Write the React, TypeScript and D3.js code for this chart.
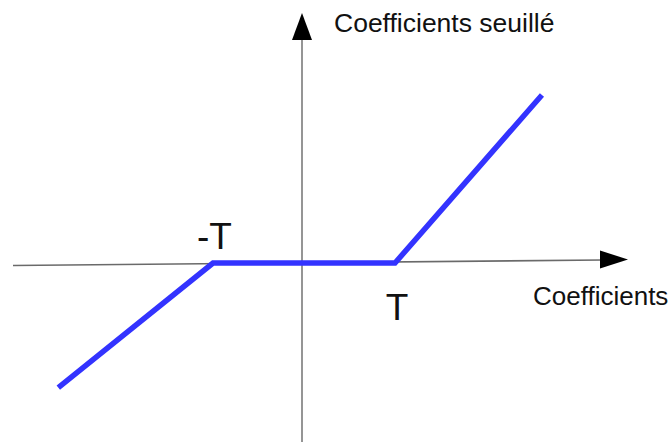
import React from "react";
import * as d3 from "d3";

const W = 672;
const H = 442;

// Threshold function points (soft thresholding, reading from picture)
const curveX = [-2.7, -1, 1, 2.615];
const curveY = [-1.37, 0, 0, 1.846];
const axisLabels = ["Coefficients", "Coefficients seuillé"];
const thresholdLabels = ["-T", "T"];

export default function App() {
  const x = d3.scaleLinear().domain([-1, 1]).range([213, 395]);
  const y = d3.scaleLinear().domain([0, 1]).range([263, 172]);
  const pts: [number, number][] = curveX.map((v, i) => [x(v), y(curveY[i])]);
  const line = d3.line<[number, number]>().x(d => d[0]).y(d => d[1]);

  const x0 = 302;
  const font = "'Liberation Sans', Arial, sans-serif";

  return (
    <svg width={W} height={H} style={{ position: "absolute", left: 0, top: 0, background: "#fff" }}>
      {/* horizontal axis */}
      <line x1={13} y1={265.5} x2={602} y2={260} stroke="#6a6a6a" strokeWidth={1.6} />
      <path d="M600,250.5 L628,259.5 L600,268.5 Z" fill="#000" />
      {/* vertical axis */}
      <line x1={x0} y1={442} x2={x0} y2={38} stroke="#8a8a8a" strokeWidth={1.8} />
      <path d={`M${x0 - 10},40 L${x0},13 L${x0 + 10},40 Z`} fill="#000" />
      {/* curve */}
      <path d={line(pts) || ""} fill="none" stroke="#3333ff" strokeWidth={5.5} strokeLinejoin="miter" />
      {/* labels */}
      <text x={334} y={32} fontFamily={font} fontSize={26.5} fill="#111">{axisLabels[1]}</text>
      <text x={533} y={305} fontFamily={font} fontSize={26} fill="#111">{axisLabels[0]}</text>
      <text x={197} y={249} fontFamily={font} fontSize={37} fill="#111">{thresholdLabels[0]}</text>
      <text x={397} y={320} fontFamily={font} fontSize={37} fill="#111" textAnchor="middle">{thresholdLabels[1]}</text>
    </svg>
  );
}
